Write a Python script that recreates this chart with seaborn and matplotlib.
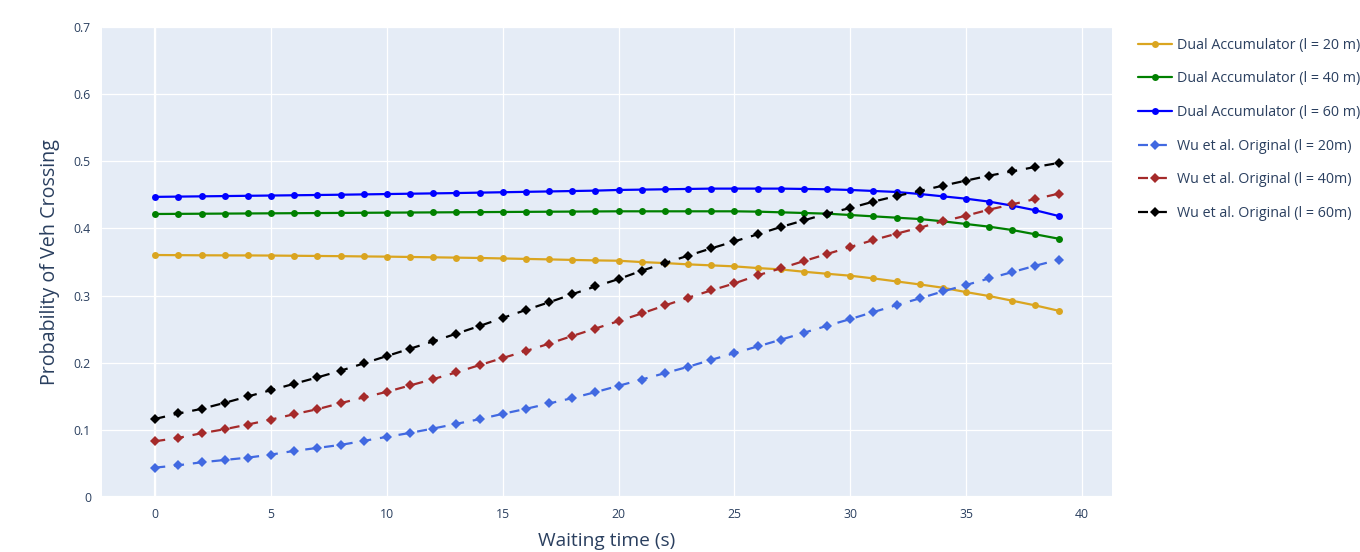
import matplotlib
matplotlib.use("Agg")
import matplotlib.pyplot as plt
import seaborn as sns
import numpy as np
import pandas as pd

# waiting time (s)
t = list(range(40))

# Dual Accumulator curves
da_20 = [0.3604, 0.3602, 0.3600, 0.3599, 0.3598, 0.3596, 0.3593, 0.3590, 0.3587, 0.3583,
         0.3580, 0.3575, 0.3570, 0.3565, 0.3560, 0.3553, 0.3546, 0.3539, 0.3531, 0.3524,
         0.3519, 0.3499, 0.3484, 0.3465, 0.3450, 0.3435, 0.3410, 0.3390, 0.3355, 0.3325,
         0.3296, 0.3256, 0.3211, 0.3166, 0.3117, 0.3052, 0.2993, 0.2923, 0.2853, 0.2774]
da_40 = [0.4215, 0.4217, 0.4219, 0.4221, 0.4223, 0.4225, 0.4227, 0.4229, 0.4231, 0.4233,
         0.4235, 0.4237, 0.4239, 0.4241, 0.4243, 0.4245, 0.4247, 0.4249, 0.4251, 0.4253,
         0.4255, 0.4255, 0.4255, 0.4255, 0.4255, 0.4255, 0.4250, 0.4240, 0.4230, 0.4220,
         0.4200, 0.4180, 0.4160, 0.4140, 0.4106, 0.4066, 0.4026, 0.3976, 0.3912, 0.3847]
da_60 = [0.4470, 0.4474, 0.4478, 0.4482, 0.4486, 0.4490, 0.4494, 0.4498, 0.4502, 0.4507,
         0.4512, 0.4517, 0.4522, 0.4527, 0.4533, 0.4539, 0.4545, 0.4551, 0.4557, 0.4563,
         0.4573, 0.4578, 0.4583, 0.4588, 0.4593, 0.4593, 0.4593, 0.4593, 0.4588, 0.4583,
         0.4573, 0.4558, 0.4543, 0.4513, 0.4478, 0.4443, 0.4399, 0.4339, 0.4270, 0.4185]

# Wu et al. original curves
wu_20 = [0.0438, 0.0473, 0.0517, 0.0552, 0.0587, 0.0632, 0.0687, 0.0731, 0.0776, 0.0836,
         0.0896, 0.0955, 0.1020, 0.1090, 0.1159, 0.1239, 0.1313, 0.1393, 0.1473, 0.1562,
         0.1656, 0.1750, 0.1845, 0.1939, 0.2043, 0.2143, 0.2242, 0.2342, 0.2446, 0.2550,
         0.2650, 0.2754, 0.2858, 0.2958, 0.3062, 0.3157, 0.3256, 0.3350, 0.3445, 0.3534]
wu_40 = [0.0831, 0.0881, 0.0950, 0.1010, 0.1080, 0.1154, 0.1234, 0.1308, 0.1398, 0.1483,
         0.1567, 0.1662, 0.1756, 0.1856, 0.1965, 0.2070, 0.2174, 0.2284, 0.2398, 0.2509,
         0.2620, 0.2734, 0.2853, 0.2968, 0.3077, 0.3181, 0.3301, 0.3405, 0.3514, 0.3619,
         0.3723, 0.3827, 0.3922, 0.4011, 0.4106, 0.4190, 0.4280, 0.4359, 0.4439, 0.4518]
wu_60 = [0.1164, 0.1244, 0.1313, 0.1403, 0.1498, 0.1592, 0.1687, 0.1781, 0.1881, 0.1990,
         0.2100, 0.2209, 0.2318, 0.2433, 0.2547, 0.2667, 0.2786, 0.2900, 0.3020, 0.3136,
         0.3246, 0.3370, 0.3484, 0.3594, 0.3703, 0.3807, 0.3912, 0.4021, 0.4120, 0.4220,
         0.4304, 0.4399, 0.4483, 0.4558, 0.4637, 0.4712, 0.4786, 0.4851, 0.4916, 0.4975]

names = ["Dual Accumulator (l = 20 m)", "Dual Accumulator (l = 40 m)", "Dual Accumulator (l = 60 m)",
         "Wu et al. Original (l = 20m)", "Wu et al. Original (l = 40m)", "Wu et al. Original (l = 60m)"]
series = [da_20, da_40, da_60, wu_20, wu_40, wu_60]
colors = ["#DAA520", "#008000", "#0000FF", "#4169E1", "#A52A2A", "#000000"]

df = pd.concat([pd.DataFrame({"t": t, "p": s, "name": n}) for n, s in zip(names, series)],
               ignore_index=True)

sns.set_theme(style="darkgrid", rc={
    "axes.facecolor": "#E5ECF6",
    "grid.color": "white",
    "grid.linewidth": 0.9,
    "axes.edgecolor": "#E5ECF6",
    "xtick.color": "#2a3f5f",
    "ytick.color": "#2a3f5f",
    "text.color": "#2a3f5f",
    "axes.labelcolor": "#2a3f5f",
})
plt.rcParams["font.family"] = ["Open Sans", "DejaVu Sans"]

fig = plt.figure(figsize=(13.6, 5.52), dpi=100)
ax = fig.add_axes([0.075, 0.0996, 0.7426, 0.8515])

markers = {n: ("o" if n.startswith("Dual") else "D") for n in names}
dashes = {n: ("" if n.startswith("Dual") else (4.5, 4)) for n in names}

sns.lineplot(data=df, x="t", y="p", hue="name", style="name", hue_order=names, style_order=names,
             palette=dict(zip(names, colors)), markers=markers, dashes=dashes,
             linewidth=1.6, markersize=5, markeredgewidth=0, ax=ax)

ax.axhline(0, color="white", lw=1.6, zorder=1)
ax.axvline(0, color="white", lw=1.6, zorder=1)

ax.set_xlim(-2.3, 41.3)
ax.set_ylim(0, 0.7)
ax.set_xticks(range(0, 41, 5))
ax.set_yticks(np.arange(0, 0.71, 0.1))
ax.set_yticklabels(["0", "0.1", "0.2", "0.3", "0.4", "0.5", "0.6", "0.7"])
ax.tick_params(axis="both", labelsize=8.8, length=0, pad=8)
ax.set_xlabel("Waiting time (s)", fontsize=13.8, labelpad=8)
ax.set_ylabel("Probability of Veh Crossing", fontsize=14.2, labelpad=10)
for sp in ax.spines.values():
    sp.set_visible(False)

handles, labels = ax.get_legend_handles_labels()
ax.get_legend().remove()
fig.legend(handles, labels, loc="upper left", bbox_to_anchor=(0.8368, 0.9315),
           frameon=False, fontsize=10.3, handlelength=2.4, handletextpad=0.35,
           labelspacing=1.3, borderpad=0, borderaxespad=0)

fig.savefig("out.png", dpi=100)
